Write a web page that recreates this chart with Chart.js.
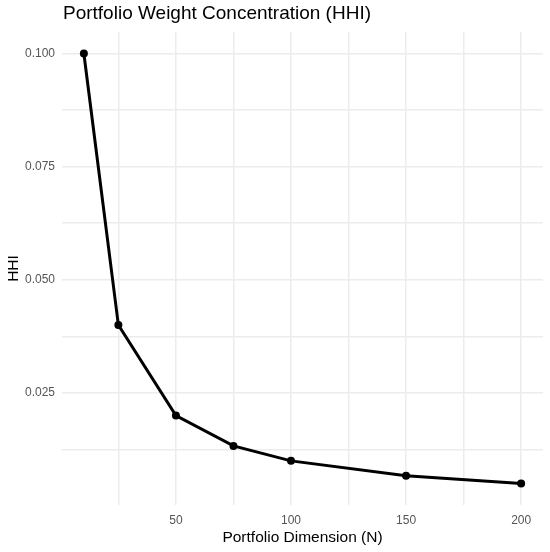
<!DOCTYPE html>
<html>
<head>
<meta charset="utf-8">
<script src="https://cdn.jsdelivr.net/npm/chart.js@4"></script>
<style>
  html, body { margin: 0; padding: 0; background: #fff; }
  canvas { display: block; }
</style>
</head>
<body>
<canvas id="chart" width="550" height="552"></canvas>
<script>
// portfolio size vs. concentration (HHI)
const dims = [10, 25, 50, 75, 100, 150, 200];
const hhi = [0.100, 0.040, 0.020, 0.0133, 0.010, 0.0067, 0.005];

const xMajor = [50, 100, 150, 200];
const xMinor = [25, 75, 125, 175];
const yMajor = [0.025, 0.050, 0.075, 0.100];
const yMinor = [0.0125, 0.0375, 0.0625, 0.0875];

// ggplot-style 5% expansion of the data range
const xLimits = [0.5, 209.5];
const yLimits = [0.00025, 0.10475];

const FONT = '"Liberation Sans", Arial, sans-serif';
const GRID = '#ececec';
const TICK = '#555';

// title sits flush with the panel's left edge, like ggplot
const panelTitle = {
  id: 'panelTitle',
  afterDraw(chart) {
    const { ctx, chartArea } = chart;
    ctx.save();
    ctx.font = `19px ${FONT}`;
    ctx.fillStyle = '#000';
    ctx.textBaseline = 'middle';
    ctx.textAlign = 'left';
    ctx.fillText('Portfolio Weight Concentration (HHI)', chartArea.left + 1, 14);
    ctx.restore();
  },
};

const toTicks = (list) => list.map((v) => ({ value: v }));

new Chart(document.getElementById('chart').getContext('2d'), {
  type: 'line',
  data: {
    datasets: [{
      data: dims.map((n, i) => ({ x: n, y: hhi[i] })),
      borderColor: '#000',
      backgroundColor: '#000',
      borderWidth: 3,
      pointRadius: 4,
      pointBorderWidth: 0,
      tension: 0,
    }],
  },
  options: {
    responsive: false,
    animation: false,
    devicePixelRatio: 1,
    layout: { padding: { top: 32, right: 7, bottom: 0, left: 0 } },
    plugins: {
      legend: { display: false },
      tooltip: { enabled: false },
    },
    scales: {
      x: {
        type: 'linear',
        min: xLimits[0],
        max: xLimits[1],
        afterBuildTicks: (s) => { s.ticks = toTicks([...xMinor, ...xMajor].sort((a, b) => a - b)); },
        afterFit: (s) => { s.height = 47; },
        border: { display: false },
        grid: { color: GRID, lineWidth: 1.5, drawTicks: false },
        ticks: {
          padding: 8,
          color: TICK,
          font: { family: FONT, size: 12 },
          maxRotation: 0,
          autoSkip: false,
          callback: (v) => (xMajor.includes(v) ? String(v) : ''),
        },
        title: {
          display: true,
          text: 'Portfolio Dimension (N)',
          color: '#000',
          font: { family: FONT, size: 15.5 },
          padding: { top: 0, bottom: 5 },
        },
      },
      y: {
        type: 'linear',
        min: yLimits[0],
        max: yLimits[1],
        afterBuildTicks: (s) => { s.ticks = toTicks([...yMinor, ...yMajor].sort((a, b) => a - b)); },
        afterFit: (s) => { s.width = 62; },
        border: { display: false },
        grid: { color: GRID, lineWidth: 1.5, drawTicks: false },
        ticks: {
          padding: 7,
          color: TICK,
          font: { family: FONT, size: 12 },
          autoSkip: false,
          callback: (v) => (yMajor.some((m) => Math.abs(m - v) < 1e-9) ? v.toFixed(3) : ''),
        },
        title: {
          display: true,
          text: 'HHI',
          color: '#000',
          font: { family: FONT, size: 15.5 },
          padding: { top: 4, bottom: 0 },
        },
      },
    },
  },
  plugins: [panelTitle],
});
</script>
</body>
</html>
